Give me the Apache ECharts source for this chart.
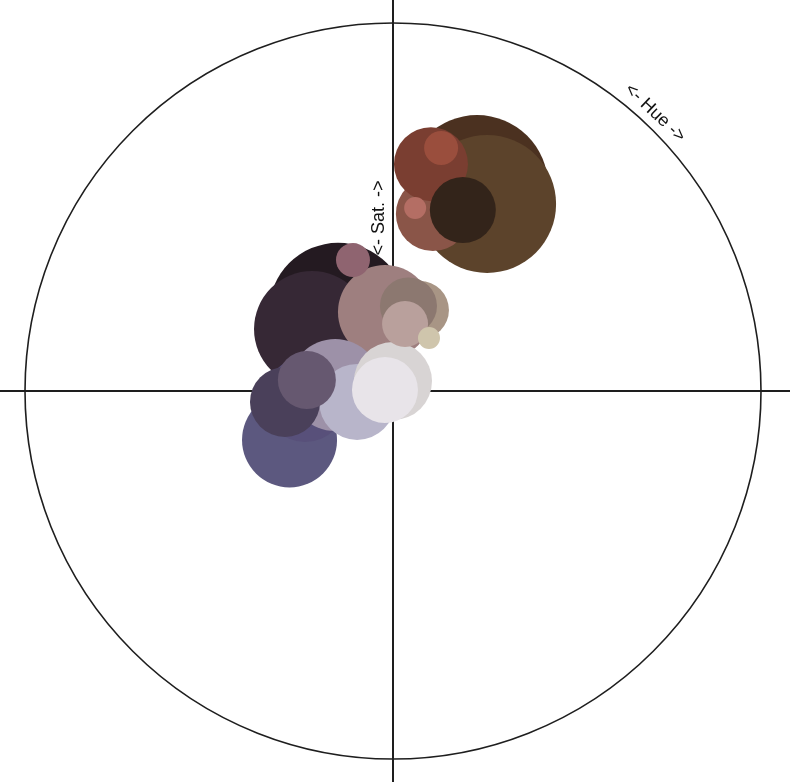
<!DOCTYPE html>
<html>
<head>
<meta charset="utf-8">
<script src="https://cdn.jsdelivr.net/npm/echarts@6/dist/echarts.min.js"></script>
<style>
  html, body { margin: 0; padding: 0; background: #fff; }
  #chart { width: 790px; height: 782px; }
</style>
</head>
<body>
<div id="chart"></div>
<script>
// Each bubble: hue (degrees, clockwise from top), saturation (0..1), size (diameter), colour
// Listed back-to-front in drawing order.
const names = [
  'darkBrown', 'brown', 'nearBlack', 'darkPurple', 'bluePurple', 'deepBlue',
  'dustyRose', 'lavenderPurple', 'salmonBrown', 'redBrown', 'lavenderGray',
  'lightGray', 'slate', 'veryDarkBrown', 'paleLavender', 'purpleGray',
  'tan', 'taupe', 'lightRose', 'mauve', 'lightRed', 'pink', 'beige'
];
const hues = [
  22.3, 26.7, 325.2, 307.4, 244.7, 264.2,
  354.2, 275.9, 12.7, 9.5, 253.0,
  0.0, 264.2, 21.1, 277.1, 277.3,
  18.4, 10.3, 10.2, 343.0, 11.2, 6.9, 34.2
];
const saturations = [
  0.602, 0.569, 0.262, 0.277, 0.311, 0.240,
  0.216, 0.158, 0.493, 0.625, 0.102,
  0.027, 0.295, 0.527, 0.022, 0.236,
  0.232, 0.235, 0.185, 0.372, 0.673, 0.501, 0.174
];
const sizes = [
  142, 138, 138, 116, 95, 84,
  94, 92, 74, 74, 76,
  78, 70, 66, 66, 58,
  58, 57, 46, 34, 34, 22, 22
];
const colors = [
  '#4b3120', '#5c432b', '#241a21', '#362835', '#5c587f', '#58507a',
  '#9e7f7f', '#9d91a8', '#8a5548', '#7a3e31', '#b8b5ca',
  '#d8d4d4', '#4a405a', '#33241a', '#e8e4e9', '#665870',
  '#a89585', '#8c7870', '#b9a09c', '#8f6470', '#9a4e3d', '#b46e64', '#cfc5ac'
];
const satLabel = '<- Sat. ->';
const hueLabel = '<- Hue ->';

const data = hues.map((h, i) => ({
  name: names[i],
  value: [saturations[i], h],
  symbolSize: sizes[i],
  itemStyle: { color: colors[i], opacity: 1 }
}));

const chart = echarts.init(document.getElementById('chart'), null, { renderer: 'canvas' });
const lineColor = '#1e1e1e';
chart.setOption({
  animation: false,
  backgroundColor: '#ffffff',
  grid: { left: 0, right: 0, top: 0, bottom: 0, containLabel: false },
  xAxis: {
    type: 'value', min: -393, max: 397,
    axisLine: { show: true, onZero: true, lineStyle: { color: lineColor, width: 2 } },
    axisTick: { show: false }, axisLabel: { show: false }, splitLine: { show: false }
  },
  yAxis: {
    type: 'value', min: -391, max: 391,
    axisLine: { show: true, onZero: true, lineStyle: { color: lineColor, width: 2 } },
    axisTick: { show: false }, axisLabel: { show: false }, splitLine: { show: false }
  },
  polar: { center: [393, 391], radius: 368 },
  angleAxis: {
    type: 'value', min: 0, max: 360, startAngle: 90, clockwise: true,
    axisLine: { show: true, lineStyle: { color: lineColor, width: 1.6 } },
    axisTick: { show: false }, axisLabel: { show: false }, splitLine: { show: false }
  },
  radiusAxis: {
    type: 'value', min: 0, max: 1,
    axisLine: { show: false }, axisTick: { show: false },
    axisLabel: { show: false }, splitLine: { show: false }
  },
  graphic: [
    {
      type: 'text', x: 379, y: 218, rotation: Math.PI / 2, z: 0,
      style: {
        text: satLabel, fill: '#111', font: '18px "Liberation Sans", Arial, sans-serif',
        align: 'center', verticalAlign: 'middle'
      }
    },
    {
      type: 'text', x: 655, y: 113, rotation: -0.76, z: 0,
      style: {
        text: hueLabel, fill: '#111', font: '18px "Liberation Sans", Arial, sans-serif',
        align: 'center', verticalAlign: 'middle'
      }
    }
  ],
  series: [{
    type: 'scatter',
    coordinateSystem: 'polar',
    symbol: 'circle',
    data: data,
    z: 5,
    emphasis: { disabled: true },
    itemStyle: { borderWidth: 0 }
  }]
});
</script>
</body>
</html>
